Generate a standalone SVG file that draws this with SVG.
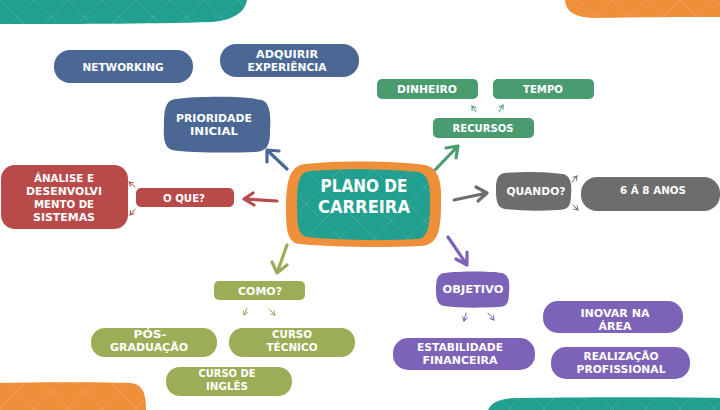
<svg xmlns="http://www.w3.org/2000/svg" width="720" height="410" viewBox="0 0 720 410">
<defs>
<style>
.t{font-family:"DejaVu Sans","Liberation Sans",sans-serif;font-weight:bold;fill:#fff;text-anchor:middle;font-size:11px}
.big{font-size:18px}
.blue{fill:#4b6894}
.green{fill:#4a9b6f}
.red{fill:#b94a4a}
.gray{fill:#6d6d6d}
.purple{fill:#7d63b8}
.olive{fill:#9bad56}
.teal{fill:#22a08f}
.orange{fill:#ef8f3a}
.arr{fill:none;stroke-width:3.2;stroke-linecap:round;stroke-linejoin:round}
.sm{fill:none;stroke-width:1;stroke-linecap:round}
</style>
<pattern id="hatch" patternUnits="userSpaceOnUse" width="34" height="34">
<path d="M0,0 L34,34 M34,0 L0,34" stroke="#fff" stroke-opacity="0.13" stroke-width="1" fill="none"/>
</pattern>
<marker id="mG" markerWidth="6" markerHeight="6" refX="5" refY="3" orient="auto" markerUnits="userSpaceOnUse" style="color:#4a9b6f"><path d="M1,0.5 L5,3 L1,5.5" fill="none" stroke="currentColor" stroke-width="1"/></marker>
<marker id="mR" markerWidth="6" markerHeight="6" refX="5" refY="3" orient="auto" markerUnits="userSpaceOnUse" style="color:#b94a4a"><path d="M1,0.5 L5,3 L1,5.5" fill="none" stroke="currentColor" stroke-width="1"/></marker>
<marker id="mY" markerWidth="6" markerHeight="6" refX="5" refY="3" orient="auto" markerUnits="userSpaceOnUse" style="color:#6d6d6d"><path d="M1,0.5 L5,3 L1,5.5" fill="none" stroke="currentColor" stroke-width="1"/></marker>
<marker id="mP" markerWidth="6" markerHeight="6" refX="5" refY="3" orient="auto" markerUnits="userSpaceOnUse" style="color:#7d63b8"><path d="M1,0.5 L5,3 L1,5.5" fill="none" stroke="currentColor" stroke-width="1"/></marker>
<marker id="mO" markerWidth="6" markerHeight="6" refX="5" refY="3" orient="auto" markerUnits="userSpaceOnUse" style="color:#9bad56"><path d="M1,0.5 L5,3 L1,5.5" fill="none" stroke="currentColor" stroke-width="1"/></marker>
</defs>
<rect width="720" height="410" fill="#fff"/>
<g id="decor">
<path class="teal" d="M0,0 H247 C245,12 234,20 212,22 C150,24 60,24 0,24 Z"/>
<path class="orange" d="M565,0 C566,12 575,18 598,18 C640,17 690,17 720,17 V0 Z"/>
<path class="orange" d="M0,383 C40,382 100,382 130,383 C142,384 146,392 146,410 H0 Z"/>
<path class="teal" d="M488,410 C492,401 502,398 520,398 C600,397 680,397 720,398 V410 Z"/>
<path fill="url(#hatch)" d="M0,0 H247 C245,12 234,20 212,22 C150,24 60,24 0,24 Z M565,0 C566,12 575,18 598,18 C640,17 690,17 720,17 V0 Z M0,383 C40,382 100,382 130,383 C142,384 146,392 146,410 H0 Z M488,410 C492,401 502,398 520,398 C600,397 680,397 720,398 V410 Z"/>
</g>
<g id="connectors">
<path class="arr" stroke="#4b6894" d="M287,169 L267,150 M267,162 L267,150 L279,151"/>
<path class="arr" stroke="#4a9b6f" d="M435,170 L458,146 M446,148 L458,146 L456,158"/>
<path class="arr" stroke="#b94a4a" d="M277,201 L244,199 M253,193 L244,199 L254,205"/>
<path class="arr" stroke="#6d6d6d" d="M454,200 L487,193 M476,187 L487,193 L478,201"/>
<path class="arr" stroke="#7d63b8" d="M448,237 L467,265 M456,259 L467,265 L467,252"/>
<path class="arr" stroke="#9bad56" d="M287,245 L277,273 M272,262 L277,273 L287,265"/>
<line class="sm" stroke="#4a9b6f" x1="476" y1="112" x2="472" y2="106" marker-end="url(#mG)"/>
<line class="sm" stroke="#4a9b6f" x1="499" y1="112" x2="503" y2="105" marker-end="url(#mG)"/>
<line class="sm" stroke="#b94a4a" x1="135" y1="187" x2="129" y2="182" marker-end="url(#mR)"/>
<line class="sm" stroke="#b94a4a" x1="135" y1="209" x2="130" y2="215" marker-end="url(#mR)"/>
<line class="sm" stroke="#6d6d6d" x1="572" y1="182" x2="577" y2="176" marker-end="url(#mY)"/>
<line class="sm" stroke="#6d6d6d" x1="573" y1="205" x2="578" y2="210" marker-end="url(#mY)"/>
<line class="sm" stroke="#7d63b8" x1="466" y1="313" x2="464" y2="321" marker-end="url(#mP)"/>
<line class="sm" stroke="#7d63b8" x1="488" y1="313" x2="494" y2="320" marker-end="url(#mP)"/>
<line class="sm" stroke="#9bad56" x1="247" y1="308" x2="244" y2="315" marker-end="url(#mO)"/>
<line class="sm" stroke="#9bad56" x1="269" y1="309" x2="275" y2="315" marker-end="url(#mO)"/>
</g>
<g id="center">
<path class="orange" d="M305,164 C340,160 400,161 425,165 C440,168 442,185 441,205 C441,230 438,246 420,246 C380,248 330,247 300,244 C288,243 286,232 286,210 C286,185 288,166 305,164 Z"/>
<path class="teal" d="M310,171 C345,168 395,169 418,172 C429,174 431,188 430,205 C430,225 428,238 418,239 C380,241 335,240 308,237 C298,236 297,225 297,205 C297,185 298,172 310,171 Z"/>
<path fill="url(#hatch)" d="M310,171 C345,168 395,169 418,172 C429,174 431,188 430,205 C430,225 428,238 418,239 C380,241 335,240 308,237 C298,236 297,225 297,205 C297,185 298,172 310,171 Z"/>
<text class="t big" x="364" y="192" textLength="87" lengthAdjust="spacingAndGlyphs">PLANO DE</text>
<text class="t big" x="364" y="213" textLength="92" lengthAdjust="spacingAndGlyphs">CARREIRA</text>
</g>
<g id="networking">
<rect class="blue" x="54" y="50" width="139" height="33" rx="16"/>
<text class="t" x="123" y="71" textLength="81" lengthAdjust="spacingAndGlyphs">NETWORKING</text>
</g>
<g id="adquirir">
<rect class="blue" x="220" y="44" width="139" height="33" rx="16"/>
<text class="t" x="287" y="58" textLength="62" lengthAdjust="spacingAndGlyphs">ADQUIRIR</text>
<text class="t" x="287" y="71" textLength="79" lengthAdjust="spacingAndGlyphs">EXPERIÊNCIA</text>
</g>
<g id="prioridade">
<path class="blue" d="M176,99 C200,96 245,96 262,100 C270,103 271,115 270,130 C270,145 268,151 255,152 C230,153 190,153 172,150 C165,148 163,140 164,125 C164,108 166,100 176,99 Z"/>
<text class="t" x="214" y="122" textLength="76" lengthAdjust="spacingAndGlyphs">PRIORIDADE</text>
<text class="t" x="214" y="135" textLength="48" lengthAdjust="spacingAndGlyphs">INICIAL</text>
</g>
<g id="dinheiro">
<rect class="green" x="377" y="79" width="101" height="20" rx="5"/>
<text class="t" x="427" y="93" textLength="60" lengthAdjust="spacingAndGlyphs">DINHEIRO</text>
</g>
<g id="tempo">
<rect class="green" x="493" y="79" width="101" height="20" rx="5"/>
<text class="t" x="543" y="93" textLength="40" lengthAdjust="spacingAndGlyphs">TEMPO</text>
</g>
<g id="recursos">
<rect class="green" x="433" y="118" width="101" height="20" rx="5"/>
<text class="t" x="483" y="132" textLength="61" lengthAdjust="spacingAndGlyphs">RECURSOS</text>
</g>
<g id="oque">
<rect class="red" x="136" y="188" width="98" height="19" rx="5"/>
<text class="t" x="184" y="202" textLength="42" lengthAdjust="spacingAndGlyphs">O QUE?</text>
</g>
<g id="analise">
<rect class="red" x="1" y="165" width="127" height="64" rx="14"/>
<text class="t" x="64" y="182" textLength="60" lengthAdjust="spacingAndGlyphs">ÁNALISE E</text>
<text class="t" x="64" y="195" textLength="76" lengthAdjust="spacingAndGlyphs">DESENVOLVI</text>
<text class="t" x="64" y="208" textLength="60" lengthAdjust="spacingAndGlyphs">MENTO DE</text>
<text class="t" x="64" y="221" textLength="62" lengthAdjust="spacingAndGlyphs">SISTEMAS</text>
</g>
<g id="quando">
<path class="gray" d="M505,173 C525,171 550,172 563,174 C571,176 572,185 571,195 C571,206 568,210 558,210 C540,211 520,211 505,209 C497,208 496,200 496,190 C496,180 497,174 505,173 Z"/>
<text class="t" x="536" y="195" textLength="59" lengthAdjust="spacingAndGlyphs">QUANDO?</text>
</g>
<g id="anos">
<rect class="gray" x="581" y="177" width="139" height="34" rx="16"/>
<text class="t" x="653" y="194" textLength="66" lengthAdjust="spacingAndGlyphs">6 Á 8 ANOS</text>
</g>
<g id="objetivo">
<path class="purple" d="M444,273 C460,271 490,271 502,273 C509,275 510,282 509,292 C509,303 507,307 498,307 C480,308 458,308 444,306 C437,305 436,298 436,290 C436,280 437,274 444,273 Z"/>
<text class="t" x="473" y="293" textLength="61" lengthAdjust="spacingAndGlyphs">OBJETIVO</text>
</g>
<g id="estabilidade">
<rect class="purple" x="393" y="338" width="142" height="32" rx="15"/>
<text class="t" x="460" y="351" textLength="86" lengthAdjust="spacingAndGlyphs">ESTABILIDADE</text>
<text class="t" x="460" y="364" textLength="75" lengthAdjust="spacingAndGlyphs">FINANCEIRA</text>
</g>
<g id="inovar">
<rect class="purple" x="543" y="301" width="140" height="32" rx="15"/>
<text class="t" x="615" y="317" textLength="69" lengthAdjust="spacingAndGlyphs">INOVAR NA</text>
<text class="t" x="615" y="330" textLength="33" lengthAdjust="spacingAndGlyphs">ÁREA</text>
</g>
<g id="realizacao">
<rect class="purple" x="551" y="347" width="139" height="32" rx="15"/>
<text class="t" x="621" y="360" textLength="75" lengthAdjust="spacingAndGlyphs">REALIZAÇÃO</text>
<text class="t" x="621" y="373" textLength="89" lengthAdjust="spacingAndGlyphs">PROFISSIONAL</text>
</g>
<g id="como">
<rect class="olive" x="214" y="281" width="91" height="19" rx="5"/>
<text class="t" x="260" y="295" textLength="44" lengthAdjust="spacingAndGlyphs">COMO?</text>
</g>
<g id="pos">
<rect class="olive" x="91" y="328" width="126" height="29" rx="14"/>
<text class="t" x="150" y="338" textLength="33" lengthAdjust="spacingAndGlyphs">PÓS-</text>
<text class="t" x="149" y="351" textLength="78" lengthAdjust="spacingAndGlyphs">GRADUAÇÃO</text>
</g>
<g id="tecnico">
<rect class="olive" x="229" y="328" width="126" height="29" rx="14"/>
<text class="t" x="292" y="338" textLength="40" lengthAdjust="spacingAndGlyphs">CURSO</text>
<text class="t" x="292" y="351" textLength="51" lengthAdjust="spacingAndGlyphs">TÉCNICO</text>
</g>
<g id="ingles">
<rect class="olive" x="166" y="367" width="126" height="29" rx="14"/>
<text class="t" x="227" y="377" textLength="57" lengthAdjust="spacingAndGlyphs">CURSO DE</text>
<text class="t" x="227" y="390" textLength="42" lengthAdjust="spacingAndGlyphs">INGLÊS</text>
</g>
</svg>
